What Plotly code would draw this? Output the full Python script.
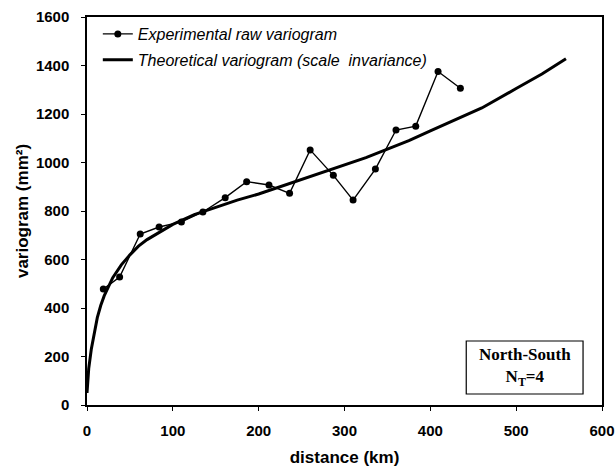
import plotly.graph_objects as go

# Experimental raw variogram (distance km, variogram mm^2)
exp_dist = [19, 38, 62, 84, 110, 135, 161, 186, 212, 236, 260, 287, 310, 336, 360, 383, 409, 435]
exp_vario = [478, 528, 705, 734, 755, 796, 855, 921, 907, 873, 1052, 947, 845, 973, 1134, 1150, 1375, 1306]

# Theoretical variogram (scale invariance)
th_dist = [0, 2, 5, 8, 12, 16, 20, 30, 40, 50, 60, 70, 85, 100, 125, 150, 175, 200, 225,
           250, 275, 300, 325, 350, 375, 400, 425, 460, 500, 530, 558]
th_vario = [50, 150, 230, 290, 360, 410, 450, 525, 578, 619, 655, 682, 715, 745, 785, 815,
            845, 870, 900, 928, 960, 990, 1020, 1055, 1090, 1130, 1170, 1225, 1305, 1365, 1428]

x_ticks = [0, 100, 200, 300, 400, 500, 600]
y_ticks = [0, 200, 400, 600, 800, 1000, 1200, 1400, 1600]

fig = go.Figure()
fig.add_trace(go.Scatter(
    x=exp_dist, y=exp_vario, mode="lines+markers",
    name="Experimental raw variogram", legendgroup="a",
    line=dict(color="black", width=1.4),
    marker=dict(color="black", size=7),
))
fig.add_trace(go.Scatter(
    x=th_dist, y=th_vario, mode="lines",
    name="Theoretical variogram (scale  invariance)", legendgroup="b",
    line=dict(color="black", width=3),
))

axis_common = dict(
    showgrid=False, zeroline=False, showline=True, linecolor="black", linewidth=1.5,
    mirror=True, ticks="outside", ticklen=4, tickcolor="black", automargin=False,
    tickfont=dict(family="Liberation Sans, Arial", size=15, color="black", weight="bold"),
)

fig.update_layout(
    width=616, height=474,
    margin=dict(l=87, r=14, t=17, b=69),
    paper_bgcolor="white", plot_bgcolor="white",
    showlegend=True,
    legend=dict(
        x=0.021, y=1.0, xanchor="left", yanchor="top",
        bgcolor="rgba(0,0,0,0)",
        font=dict(family="Liberation Sans, Arial", size=16, color="black", style="italic"),
        tracegroupgap=2,
    ),
    xaxis=dict(
        range=[0, 600], tickvals=x_ticks,
        title=dict(text="distance (km)", standoff=13,
                   font=dict(family="Liberation Sans, Arial", size=17, color="black", weight="bold")),
        ticklabelstandoff=7,
        **axis_common,
    ),
    yaxis=dict(
        range=[0, 1600], tickvals=y_ticks,
        title=dict(text="variogram (mm²)", standoff=3,
                   font=dict(family="Liberation Sans, Arial", size=17, color="black", weight="bold")),
        ticklabelstandoff=9,
        **axis_common,
    ),
)

fig.add_shape(type="rect", xref="paper", yref="paper",
              x0=0.7364, x1=0.9632, y0=0.0284, y1=0.165,
              line=dict(color="black", width=1.2), fillcolor="white")
fig.add_annotation(xref="paper", yref="paper", x=0.8498, y=0.098,
                   text="North-South<br>N<sub>T</sub>=4", showarrow=False,
                   font=dict(family="Liberation Serif, Times New Roman", size=17,
                             color="black", weight="bold"),
                   align="center", xanchor="center", yanchor="middle")

fig.write_html("out.html")
